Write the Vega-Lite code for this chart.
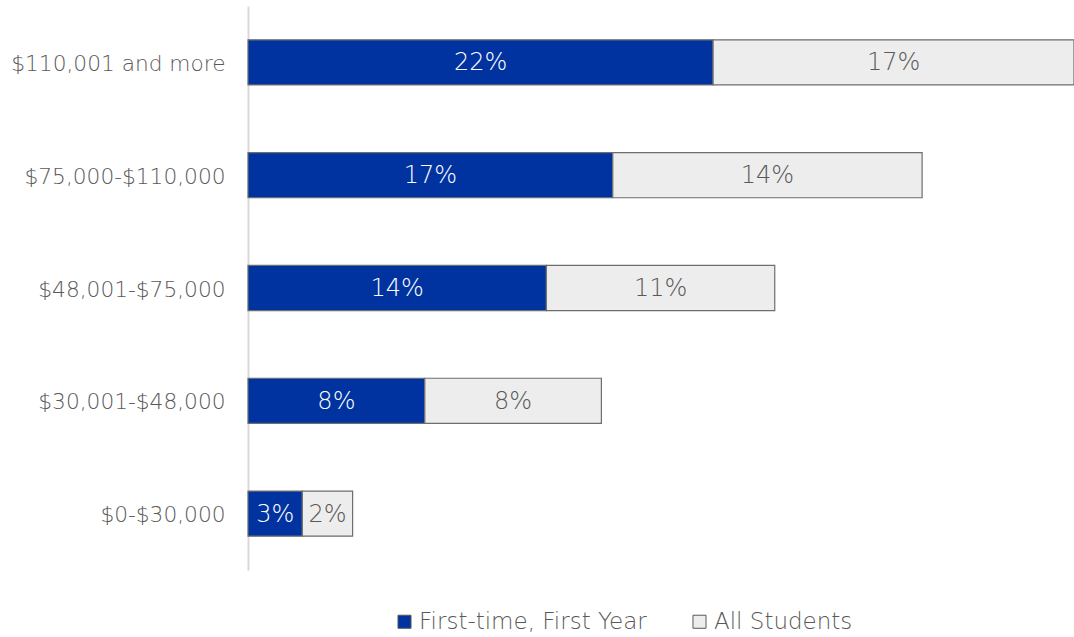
{
  "$schema": "https://vega.github.io/schema/vega-lite/v6.json",
  "autosize": "none",
  "width": 826,
  "height": 564,
  "padding": {"left": 248, "top": 6, "right": 0, "bottom": 67},
  "background": "white",
  "config": {"view": {"stroke": null}, "font": "DejaVu Sans"},
  "data": {
    "values": [
      {"income": "$110,001 and more", "group": "First-time, First Year", "k": 1, "value": 0.2165},
      {"income": "$110,001 and more", "group": "All Students", "k": 2, "value": 0.168},
      {"income": "$75,000-$110,000", "group": "First-time, First Year", "k": 1, "value": 0.1698},
      {"income": "$75,000-$110,000", "group": "All Students", "k": 2, "value": 0.144},
      {"income": "$48,001-$75,000", "group": "First-time, First Year", "k": 1, "value": 0.1389},
      {"income": "$48,001-$75,000", "group": "All Students", "k": 2, "value": 0.1063},
      {"income": "$30,001-$48,000", "group": "First-time, First Year", "k": 1, "value": 0.0823},
      {"income": "$30,001-$48,000", "group": "All Students", "k": 2, "value": 0.0822},
      {"income": "$0-$30,000", "group": "First-time, First Year", "k": 1, "value": 0.0253},
      {"income": "$0-$30,000", "group": "All Students", "k": 2, "value": 0.0234}
    ]
  },
  "transform": [
    {"stack": "value", "groupby": ["income"], "sort": [{"field": "k", "order": "ascending"}], "as": ["v0", "v1"]},
    {"calculate": "(datum.v0 + datum.v1) / 2", "as": "mid"}
  ],
  "encoding": {
    "y": {
      "field": "income",
      "type": "nominal",
      "sort": ["$110,001 and more", "$75,000-$110,000", "$48,001-$75,000", "$30,001-$48,000", "$0-$30,000"],
      "scale": {"paddingInner": 0.6, "paddingOuter": 0.3},
      "axis": {
        "title": null,
        "ticks": false,
        "domainColor": "#D9D9D9",
        "domainWidth": 2,
        "labelFontSize": 21.7,
        "labelFont": "DejaVu Sans",
        "labelFontWeight": 200,
        "labelColor": "#595959",
        "labelPadding": 23,
        "labelOffset": 1.5,
        "labelLimit": 300
      }
    }
  },
  "layer": [
    {
      "mark": {"type": "bar", "stroke": "#6E6E6E", "strokeWidth": 1.2},
      "encoding": {
        "x": {"field": "v0", "type": "quantitative", "scale": {"domain": [0, 0.3845], "nice": false}, "axis": null},
        "x2": {"field": "v1"},
        "color": {
          "field": "group",
          "type": "nominal",
          "sort": ["First-time, First Year", "All Students"],
          "scale": {"domain": ["First-time, First Year", "All Students"], "range": ["#0033A0", "#EDEDED"]},
          "legend": {
            "title": null,
            "orient": "none",
            "direction": "horizontal",
            "legendX": 145,
            "legendY": 604,
            "symbolType": "square",
            "symbolSize": 170,
            "symbolStrokeColor": "#595959",
            "symbolStrokeWidth": 1,
            "labelFontSize": 23,
            "labelFont": "DejaVu Sans",
            "labelFontWeight": 200,
            "labelColor": "#595959",
            "labelOffset": 3,
            "columnPadding": 41,
            "labelLimit": 400
          }
        }
      }
    },
    {
      "mark": {"type": "text", "fontSize": 24, "font": "DejaVu Sans", "fontWeight": 200, "baseline": "middle", "align": "center", "dy": 1},
      "encoding": {
        "x": {"field": "mid", "type": "quantitative"},
        "text": {"field": "value", "type": "quantitative", "format": ".0%"},
        "color": {
          "condition": {"test": "datum.group === 'First-time, First Year'", "value": "#FFFFFF"},
          "value": "#595959"
        }
      }
    }
  ]
}
